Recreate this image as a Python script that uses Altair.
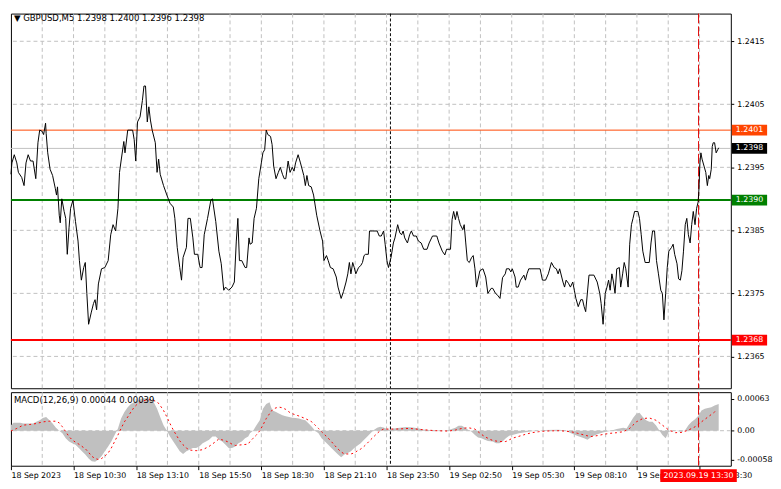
import altair as alt
import pandas as pd

# ---------------- data ----------------
price_bar = [0.0, 0.5, 1.7, 3.0, 3.8, 5.5, 6.7, 7.7, 8.8, 10.0, 11.3, 12.7, 13.8, 14.7, 16.0, 16.7, 17.7, 18.0, 18.8, 20.0,
             21.3, 22.7, 23.3, 23.8, 24.7, 25.2, 26.0, 27.2, 28.0, 28.8, 29.7, 30.5, 31.7, 33.0, 34.3, 35.0, 36.0, 37.2, 38.0, 38.8,
             39.7, 41.0, 42.2, 43.0, 43.8, 44.7, 46.3, 48.0, 49.7, 51.0, 52.2, 53.5, 54.7, 55.5, 56.3, 57.7, 58.3, 59.7, 62.2, 63.0,
             63.8, 64.7, 66.0, 67.2, 68.0, 68.8, 69.7, 70.5, 71.3, 72.2, 73.8, 74.7, 75.5, 76.3, 78.0, 79.7, 81.3, 83.0, 83.8, 85.0,
             86.3, 87.2, 88.0, 89.7, 90.5, 91.7, 93.0, 93.8, 95.5, 96.7, 97.7, 98.8, 100.5, 102.2, 103.0, 104.7, 106.3, 107.5, 108.8, 109.7,
             111.3, 113.0, 114.2, 115.2, 116.0, 116.8, 118.0, 119.7, 120.5, 121.7, 122.2, 123.3, 124.3, 125.5, 126.7, 128.0, 128.8, 129.7, 130.5, 131.3,
             132.7, 133.5, 134.3, 135.5, 136.7, 137.7, 138.8, 139.7, 140.5, 141.7, 142.7, 143.8, 144.7, 145.5, 146.8, 148.0, 149.7, 150.5, 151.3, 152.2,
             153.5, 154.7, 156.3, 158.0, 159.3, 160.0, 161.3, 162.2, 163.3, 164.7, 166.3, 167.2, 168.8, 170.0, 171.3, 172.2, 173.0, 173.8, 174.7, 175.5,
             176.3, 177.7, 178.8, 179.7, 180.5, 181.3, 182.7, 183.3, 184.7, 187.2, 188.3, 189.3, 190.5, 191.3, 192.2, 193.0, 194.3, 195.5, 196.3, 197.7,
             198.8, 199.7, 200.5, 201.3, 202.7, 203.8, 204.7, 205.8, 207.2, 208.3, 209.7, 211.0, 212.7, 213.8, 215.5, 217.7, 218.8, 220.5, 221.8, 222.7,
             224.7, 225.5, 226.3, 227.2, 228.0, 228.8, 229.7, 231.0, 231.7, 232.5, 233.3, 234.3, 235.5, 236.3, 237.2, 238.0, 239.7, 241.3, 242.7, 243.8,
             245.5, 246.3, 247.7, 248.8, 250.0, 251.3, 252.7, 253.3, 254.7, 255.5, 256.3, 257.7, 258.3, 259.3, 260.5, 262.2, 263.0, 263.8, 264.7, 270.5,
             271.7, 273.3, 274.7, 276.3, 277.7, 278.8, 279.7, 280.5, 282.2, 283.0, 283.8, 285.0, 286.0, 287.2, 288.0, 288.8, 290.0, 291.3, 292.2, 293.0,
             293.8, 295.5, 298.0, 299.7, 301.0, 301.7, 302.7, 303.3, 303.8, 304.7, 305.5, 306.3, 307.2, 308.0, 308.8, 309.7, 311.0, 311.7, 312.7, 313.5,
             314.3, 315.5, 316.3, 317.2, 318.0, 318.8, 320.5, 321.3, 322.2, 323.0, 324.2, 326.3, 327.2, 328.0, 329.0, 330.0, 331.0, 332.2, 333.0, 333.8,
             334.7, 335.5, 336.3, 337.7, 338.5, 339.3, 340.5, 341.3, 342.2, 343.0, 343.8, 344.7, 345.5, 346.3, 347.2, 348.0, 348.8, 349.7, 350.5, 351.3,
             351.7, 352.2, 352.7, 353.3, 354.3, 355.2, 356.0, 356.7, 357.2, 358.0, 358.5, 359.0, 359.7, 360.5, 361.3, 361.8]
price_close = [1.23939, 1.23957, 1.23970, 1.23957, 1.23942, 1.23934, 1.23921, 1.23957, 1.23970, 1.23960, 1.23960, 1.23932, 1.23989, 1.24009, 1.24007, 1.24002, 1.24020, 1.24004, 1.23973, 1.23947,
               1.23937, 1.23916, 1.23906, 1.23919, 1.23874, 1.23862, 1.23900, 1.23880, 1.23869, 1.23812, 1.23854, 1.23885, 1.23898, 1.23864, 1.23833, 1.23802, 1.23771, 1.23791, 1.23799, 1.23750,
               1.23701, 1.23719, 1.23734, 1.23740, 1.23724, 1.23765, 1.23789, 1.23791, 1.23802, 1.23843, 1.23859, 1.23849, 1.23885, 1.23942, 1.23960, 1.23991, 1.23973, 1.24009, 1.24009, 1.23994,
               1.23960, 1.24022, 1.24030, 1.24056, 1.24079, 1.24079, 1.24022, 1.24046, 1.24025, 1.24009, 1.23989, 1.23942, 1.23963, 1.23939, 1.23921, 1.23906, 1.23893, 1.23887, 1.23869, 1.23823,
               1.23791, 1.23771, 1.23807, 1.23823, 1.23869, 1.23869, 1.23838, 1.23812, 1.23812, 1.23791, 1.23791, 1.23843, 1.23869, 1.23898, 1.23900, 1.23864, 1.23817, 1.23797, 1.23755, 1.23760,
               1.23755, 1.23760, 1.23768, 1.23833, 1.23869, 1.23802, 1.23802, 1.23791, 1.23791, 1.23838, 1.23828, 1.23830, 1.23869, 1.23885, 1.23932, 1.23957, 1.23973, 1.23978, 1.24009, 1.24002,
               1.23999, 1.23986, 1.23952, 1.23932, 1.23942, 1.23950, 1.23939, 1.23932, 1.23932, 1.23960, 1.23942, 1.23950, 1.23944, 1.23957, 1.23970, 1.23957, 1.23937, 1.23921, 1.23937, 1.23921,
               1.23919, 1.23906, 1.23874, 1.23849, 1.23833, 1.23802, 1.23810, 1.23802, 1.23791, 1.23789, 1.23776, 1.23760, 1.23742, 1.23753, 1.23768, 1.23781, 1.23799, 1.23781, 1.23799, 1.23791,
               1.23781, 1.23791, 1.23794, 1.23799, 1.23810, 1.23812, 1.23812, 1.23849, 1.23849, 1.23849, 1.23841, 1.23841, 1.23849, 1.23828, 1.23802, 1.23791, 1.23807, 1.23830, 1.23838, 1.23859,
               1.23846, 1.23843, 1.23849, 1.23838, 1.23830, 1.23843, 1.23849, 1.23841, 1.23841, 1.23833, 1.23830, 1.23820, 1.23820, 1.23830, 1.23841, 1.23841, 1.23830, 1.23817, 1.23811, 1.23820,
               1.23820, 1.23867, 1.23880, 1.23867, 1.23880, 1.23869, 1.23859, 1.23851, 1.23859, 1.23830, 1.23802, 1.23799, 1.23807, 1.23810, 1.23789, 1.23760, 1.23786, 1.23789, 1.23776, 1.23750,
               1.23758, 1.23758, 1.23750, 1.23747, 1.23742, 1.23775, 1.23781, 1.23789, 1.23789, 1.23784, 1.23789, 1.23776, 1.23760, 1.23760, 1.23771, 1.23779, 1.23771, 1.23781, 1.23789, 1.23789,
               1.23771, 1.23771, 1.23781, 1.23799, 1.23791, 1.23789, 1.23781, 1.23789, 1.23768, 1.23760, 1.23771, 1.23766, 1.23760, 1.23768, 1.23755, 1.23742, 1.23729, 1.23740, 1.23740, 1.23729,
               1.23721, 1.23779, 1.23779, 1.23768, 1.23750, 1.23734, 1.23701, 1.23729, 1.23750, 1.23760, 1.23771, 1.23755, 1.23781, 1.23768, 1.23750, 1.23789, 1.23791, 1.23760, 1.23781, 1.23799,
               1.23789, 1.23760, 1.23828, 1.23859, 1.23869, 1.23880, 1.23880, 1.23869, 1.23843, 1.23817, 1.23799, 1.23799, 1.23830, 1.23849, 1.23849, 1.23802, 1.23781, 1.23755, 1.23750, 1.23708,
               1.23750, 1.23791, 1.23817, 1.23823, 1.23828, 1.23812, 1.23797, 1.23773, 1.23771, 1.23786, 1.23817, 1.23859, 1.23869, 1.23843, 1.23830, 1.23859, 1.23880, 1.23859, 1.23885, 1.23895,
               1.23916, 1.23957, 1.23973, 1.23963, 1.23952, 1.23942, 1.23921, 1.23937, 1.23932, 1.23947, 1.23983, 1.23989, 1.23989, 1.23973, 1.23978, 1.23981]

macd_bar = [0.0, 1.3, 4.7, 6.3, 11.3, 13.0, 14.7, 16.3, 18.0, 19.7, 21.3, 23.0, 24.7, 26.3, 28.0, 29.7, 31.3, 33.0, 34.7, 36.3,
            38.0, 39.7, 41.3, 43.0, 44.7, 46.3, 48.0, 49.7, 51.3, 53.0, 54.7, 56.3, 58.0, 59.7, 61.3, 63.0, 64.7, 66.3, 68.0, 69.7,
            71.3, 73.0, 74.7, 76.3, 78.0, 79.7, 81.3, 83.0, 84.7, 86.3, 88.0, 89.7, 91.3, 93.0, 94.7, 96.3, 98.0, 99.7, 101.3, 103.0,
            104.7, 106.3, 108.0, 109.7, 111.3, 113.0, 114.7, 116.3, 118.0, 119.7, 121.3, 122.2, 123.8, 125.5, 127.2, 128.8, 130.5, 132.2, 133.0, 133.8,
            135.5, 137.2, 138.8, 140.5, 142.2, 143.8, 145.5, 147.2, 148.8, 150.5, 152.2, 153.8, 155.5, 157.2, 158.8, 160.5, 162.2, 163.8, 165.5, 167.2,
            168.8, 170.5, 172.2, 173.8, 175.5, 177.2, 178.8, 180.5, 182.2, 183.8, 185.5, 187.2, 188.8, 190.5, 192.2, 193.8, 195.5, 198.8, 202.2, 205.5,
            208.8, 210.5, 213.8, 217.2, 220.5, 223.8, 227.2, 228.8, 230.5, 232.2, 233.8, 235.5, 237.2, 238.8, 240.5, 242.2, 243.8, 246.3, 248.0, 249.7,
            251.3, 253.0, 254.7, 256.3, 259.7, 263.0, 266.3, 269.7, 273.0, 279.7, 283.0, 286.3, 289.7, 293.0, 294.7, 296.3, 298.0, 299.7, 303.0, 306.3,
            309.7, 313.0, 314.7, 316.3, 318.0, 319.7, 321.3, 323.0, 324.7, 326.3, 328.0, 329.7, 331.3, 333.0, 334.7, 335.5, 336.3, 339.7, 343.0, 344.7,
            346.3, 348.0, 349.7, 351.3, 353.0, 354.7, 356.3, 358.0, 359.7, 361.8]
macd_main = [0.00011, 0.000156, 0.000156, 0.000143, 0.000143, 0.000176, 0.000208, 0.000254, 0.000273, 0.000208, 0.000143, 0.000059, 0.0, -0.000052, -0.00015, -0.000215, -0.000247, -0.00028, -0.000345, -0.00041,
             -0.000475, -0.000553, -0.000605, -0.000618, -0.000572, -0.000507, -0.00041, -0.000312, -0.000215, -0.000085, 0.000046, 0.000241, 0.000371, 0.000468, 0.000533, 0.000566, 0.000598, 0.000631, 0.000644, 0.000644,
             0.000631, 0.000566, 0.000436, 0.000273, 0.000111, 0.0, -0.000117, -0.000215, -0.000312, -0.00041, -0.000462, -0.00041, -0.000377, -0.000345, -0.000345, -0.000312, -0.000247, -0.000215, -0.000182, -0.000117,
             -0.000117, -0.000182, -0.000215, -0.00028, -0.000345, -0.000345, -0.000312, -0.000247, -0.000215, -0.00015, -0.000117, -0.000052, 0.0, 0.000111, 0.000208, 0.000436, 0.000533, 0.000566, 0.000468, 0.000403,
             0.000371, 0.000338, 0.000306, 0.000286, 0.000273, 0.00026, 0.000254, 0.000241, 0.000221, 0.000208, 0.000143, 0.000078, 0.0, -0.000052, -0.00015, -0.000215, -0.00028, -0.000345, -0.00041, -0.000475,
             -0.000527, -0.000475, -0.000442, -0.00041, -0.000345, -0.000293, -0.000247, -0.000182, -0.000117, -0.000052, 0.000013, 0.000059, 0.000078, 0.000065, 0.000033, 0.000013, 0.000046, 0.000059, 0.000072, 0.000065,
             0.000046, 0.000026, 0.000013, 0.000007, 0.0, 0.000013, 0.000059, 0.000098, 0.000098, 0.000059, 0.000013, -0.00002, -0.000085, -0.000137, -0.00015, -0.000182, -0.000202, -0.000215, -0.000247, -0.000247,
             -0.000215, -0.00015, -0.000098, -0.000085, -0.000052, -0.000033, -0.000013, 0.0, 0.000013, 0.00002, 0.000007, -0.000052, -0.000104, -0.00015, -0.000182, -0.000137, -0.000098, -0.000072, -0.000033, -0.000007,
             0.000033, 0.000059, 0.000046, 0.000143, 0.000254, 0.000338, 0.000358, 0.000273, 0.000208, 0.000176, 0.000176, 0.000111, 0.000013, -0.000085, -0.00015, -0.000085, -0.00002, 0.0, -0.00002, 0.000013,
             0.000111, 0.000176, 0.000228, 0.000293, 0.000403, 0.000436, 0.000449, 0.000468, 0.000501, 0.000533]

signal_bar = [0.0, 3.0, 6.3, 9.7, 13.0, 16.3, 19.7, 23.0, 24.7, 26.3, 28.0, 29.7, 31.3, 33.0, 34.7, 36.3, 38.0, 39.7, 41.3, 43.0,
              44.7, 46.3, 48.0, 49.7, 51.3, 53.0, 54.7, 56.3, 58.0, 59.7, 61.3, 63.0, 64.7, 68.0, 71.3, 74.7, 76.3, 78.0, 79.7, 81.3,
              83.0, 84.7, 86.3, 88.0, 89.7, 91.3, 94.7, 98.0, 101.3, 104.7, 106.3, 108.0, 109.7, 111.3, 113.0, 114.7, 118.0, 121.3, 122.2, 123.8,
              125.5, 127.2, 128.8, 130.5, 132.2, 133.8, 135.5, 137.2, 138.8, 140.5, 142.2, 143.8, 147.2, 150.5, 153.8, 155.5, 157.2, 158.8, 160.5, 162.2,
              163.8, 165.5, 167.2, 168.8, 170.5, 173.8, 175.5, 177.2, 178.8, 180.5, 182.2, 183.8, 185.5, 187.2, 188.8, 190.5, 197.2, 203.8, 210.5, 217.2,
              223.8, 227.2, 230.5, 233.8, 237.2, 238.8, 240.5, 242.2, 243.8, 246.3, 249.7, 253.0, 254.7, 256.3, 259.7, 263.0, 266.3, 269.7, 273.0, 279.7,
              283.0, 286.3, 289.7, 293.0, 296.3, 299.7, 303.0, 306.3, 309.7, 313.0, 316.3, 319.7, 323.0, 326.3, 329.7, 333.0, 336.3, 339.7, 343.0, 346.3,
              349.7, 353.0, 356.3, 359.7, 360.5]
signal_val = [-0.000007, 0.000046, 0.000111, 0.000124, 0.000143, 0.000176, 0.000189, 0.000189, 0.000156, 0.000078, -0.00002, -0.000117, -0.000182, -0.000228, -0.000267, -0.000312, -0.000358, -0.000429, -0.000507, -0.000553,
              -0.000572, -0.000553, -0.000507, -0.000442, -0.000345, -0.000215, -0.000085, 0.000046, 0.000176, 0.000273, 0.000371, 0.000468, 0.000533, 0.000598, 0.000618, 0.000579, 0.000501, 0.000403, 0.000273, 0.000143,
              0.000013, -0.000098, -0.000202, -0.00028, -0.000345, -0.000384, -0.000397, -0.000377, -0.000312, -0.000215, -0.000163, -0.000182, -0.000202, -0.000228, -0.000267, -0.000293, -0.00028, -0.000267, -0.000215, -0.00015,
              -0.000085, 0.0, 0.000111, 0.000241, 0.000338, 0.000423, 0.000455, 0.000468, 0.000455, 0.000423, 0.000371, 0.000338, 0.000293, 0.000241, 0.000176, 0.000111, 0.000046, -0.00002, -0.000085, -0.00015,
              -0.000215, -0.000293, -0.000364, -0.000423, -0.000462, -0.000462, -0.000442, -0.000397, -0.000364, -0.000312, -0.000247, -0.000182, -0.000117, -0.000052, 0.0, 0.000033, 0.000033, 0.000046, 0.00002, 0.0,
              -0.000007, 0.000013, 0.000046, 0.000059, 0.000033, -0.00002, -0.000072, -0.000117, -0.00015, -0.000195, -0.000215, -0.000215, -0.000182, -0.00015, -0.000111, -0.000072, -0.000039, -0.00002, -0.000007, 0.0,
              -0.000007, -0.00002, -0.000052, -0.000085, -0.000117, -0.000098, -0.000072, -0.000052, -0.000039, -0.00002, 0.000046, 0.000176, 0.000241, 0.000254, 0.000208, 0.000111, 0.000013, -0.000039, -0.000033, 0.000013,
              0.000078, 0.000176, 0.000273, 0.000371, 0.000403]

level_price = [1.24009, 1.2398, 1.23898, 1.23676]
level_label = ["1.2401", "1.2398", "1.2390", "1.2368"]
level_line_color = ["#FF4500", "#C0C0C0", "#008000", "#FF0000"]
level_box_color = ["#FF4500", "#000000", "#008000", "#FF0000"]
level_width = [1, 1, 2, 2]

price_ticks = [1.2365, 1.2375, 1.2385, 1.2395, 1.2405, 1.2415]
grid_bars = [16, 32, 48, 64, 80, 96, 112, 128, 144, 160, 176, 192, 208, 224, 240, 256, 272, 288, 304, 320, 336, 352]
x_label_bars = [0, 32, 64, 96, 128, 160, 192, 224, 256, 288, 320, 352]
x_labels = ["18 Sep 2023", "18 Sep 10:30", "18 Sep 13:10", "18 Sep 15:50", "18 Sep 18:30", "18 Sep 21:10",
            "18 Sep 23:50", "19 Sep 02:50", "19 Sep 05:30", "19 Sep 08:10", "19 Sep 10:50", "19 Sep 13:30"]
separator_bar = [194]
now_bar = [351.5]
now_label = ["2023.09.19 13:30"]
macd_ticks = [0.00063, 0.0, -0.00058]
title_text = ["\u25BC GBPUSD,M5  1.2398 1.2400 1.2396 1.2398"]
macd_text = ["MACD(12,26,9) 0.00044 0.00039"]

# ---------------- layout / style ----------------
W = 734
H_MAIN = 382
H_MACD = 75
FONT = "DejaVu Sans"
FS = 8
FS_TITLE = 8.7
GRID = "#C0C0C0"

df_price = pd.DataFrame({"bar": price_bar, "price": price_close})
df_macd = pd.DataFrame({"bar": macd_bar, "val": macd_main})
df_sig = pd.DataFrame({"bar": signal_bar, "val": signal_val})
df_lev = pd.DataFrame({"price": level_price, "label": level_label, "col": level_line_color,
                       "box": level_box_color, "w": level_width})
df_pt = pd.DataFrame({"price": price_ticks})
df_grid = pd.DataFrame({"bar": grid_bars})
df_sep = pd.DataFrame({"bar": separator_bar})
df_now = pd.DataFrame({"bar": now_bar, "label": now_label})
df_zero = pd.DataFrame({"val": [0.0]})

xs = alt.Scale(domain=[0, 368], nice=False, zero=False)
ys = alt.Scale(domain=[1.235995, 1.241939], nice=False, zero=False)
ms = alt.Scale(domain=[-0.000696, 0.000766], nice=False, zero=False)

y_axis = alt.Axis(orient="right", values=price_ticks, format=".4f", title=None, tickSize=3,
                  labelPadding=3, domain=False, grid=False)
m_axis = alt.Axis(orient="right", values=macd_ticks, title=None, tickSize=3, labelPadding=3,
                  domain=False, grid=False,
                  labelExpr="datum.value == 0 ? '0.00' : replace(format(datum.value, '.5f'), '\u2212', '-')")
lab_expr = "[" + ",".join("'%s'" % s for s in x_labels) + "][indexof([" + \
    ",".join(str(v) for v in x_label_bars) + "], datum.value)]"
x_axis = alt.Axis(orient="bottom", values=x_label_bars, labelExpr=lab_expr, labelAlign="left",
                  labelFlush=False, labelOverlap=False, tickSize=4, labelPadding=2, title=None,
                  domain=False, grid=False)


def XM(f):
    return alt.X(f, type="quantitative", scale=xs, axis=None)


def YM(f):
    return alt.Y(f, type="quantitative", scale=ys, axis=y_axis)


def XB(f):
    return alt.X(f, type="quantitative", scale=xs, axis=x_axis)


def YB(f):
    return alt.Y(f, type="quantitative", scale=ms, axis=m_axis)


LEVEL_BOX = "M-1,-0.3056L1,-0.3056L1,0.3056L-1,0.3056Z"
NOW_BOX = "M-1,-0.1667L1,-0.1667L1,0.1667L-1,0.1667Z"

# ---------------- main panel ----------------
m_hgrid = alt.Chart(df_pt).mark_rule(color=GRID, strokeDash=[4, 3], strokeWidth=1).encode(y=YM("price"))
m_vgrid = alt.Chart(df_grid).mark_rule(color=GRID, strokeDash=[4, 3], strokeWidth=1).encode(x=XM("bar"))
m_levels = alt.Chart(df_lev).mark_rule(opacity=1).encode(
    y=YM("price"), color=alt.Color("col:N", scale=None), strokeWidth=alt.StrokeWidth("w:Q", scale=None))
m_sep = alt.Chart(df_sep).mark_rule(color="black", strokeDash=[3, 2], strokeWidth=1).encode(x=XM("bar"))
m_now = alt.Chart(df_now).mark_rule(color="#E00000", strokeDash=[10, 3], strokeWidth=1).encode(x=XM("bar"))
m_line = alt.Chart(df_price).mark_line(color="black", strokeWidth=1).encode(x=XM("bar"), y=YM("price"))
m_box = alt.Chart(df_lev).mark_point(shape=LEVEL_BOX, filled=True, size=36 * 36, opacity=1, strokeWidth=0).encode(
    x=alt.value(W + 19), y=YM("price"), color=alt.Color("box:N", scale=None))
m_boxtext = alt.Chart(df_lev).mark_text(color="white", font=FONT, fontSize=FS, align="center",
                                        baseline="middle").encode(x=alt.value(W + 19), y=YM("price"), text="label:N")
m_title = alt.Chart(pd.DataFrame({"t": title_text})).mark_text(
    color="black", font=FONT, fontSize=FS_TITLE, align="left", baseline="middle").encode(
    x=alt.value(3), y=alt.value(5), text="t:N")

main = alt.layer(m_hgrid, m_vgrid, m_levels, m_sep, m_now, m_line, m_box, m_boxtext, m_title).properties(
    width=W, height=H_MAIN)

# ---------------- MACD panel ----------------
b_zero = alt.Chart(df_zero).mark_rule(color=GRID, strokeDash=[4, 3], strokeWidth=1).encode(y=YB("val"))
b_vgrid = alt.Chart(df_grid).mark_rule(color=GRID, strokeDash=[4, 3], strokeWidth=1).encode(x=XB("bar"))
b_hist = alt.Chart(df_macd).mark_area(color="#C0C0C0", opacity=1).encode(
    x=XB("bar"), y=YB("val"), y2=alt.datum(0))
b_sig = alt.Chart(df_sig).mark_line(color="#FF0000", strokeDash=[2, 3], strokeWidth=1).encode(
    x=XB("bar"), y=YB("val"))
b_sep = alt.Chart(df_sep).mark_rule(color="black", strokeDash=[3, 2], strokeWidth=1).encode(x=XB("bar"))
b_now = alt.Chart(df_now).mark_rule(color="#E00000", strokeDash=[10, 3], strokeWidth=1).encode(x=XB("bar"))
b_nowbox = alt.Chart(df_now).mark_point(shape=NOW_BOX, filled=True, size=78 * 78, opacity=1, strokeWidth=0,
                                        color="#FF0000").encode(x=XB("bar"), y=alt.value(H_MACD + 10))
b_nowtext = alt.Chart(df_now).mark_text(color="white", font=FONT, fontSize=FS, align="center",
                                        baseline="middle").encode(x=XB("bar"), y=alt.value(H_MACD + 10),
                                                                  text="label:N")
b_title = alt.Chart(pd.DataFrame({"t": macd_text})).mark_text(
    color="black", font=FONT, fontSize=FS_TITLE, align="left", baseline="middle").encode(
    x=alt.value(3), y=alt.value(8), text="t:N")

macd = alt.layer(b_zero, b_vgrid, b_hist, b_sig, b_sep, b_now, b_nowbox, b_nowtext, b_title).properties(
    width=W, height=H_MACD)

chart = alt.vconcat(main, macd, spacing=2).properties(padding=0, background="white").configure_view(
    stroke="black", strokeWidth=1).configure_axis(
    labelFont=FONT, labelFontSize=FS, labelColor="black", tickColor="black", tickWidth=1)

chart.save("out.html", embed_options={"renderer": "svg", "actions": False})
